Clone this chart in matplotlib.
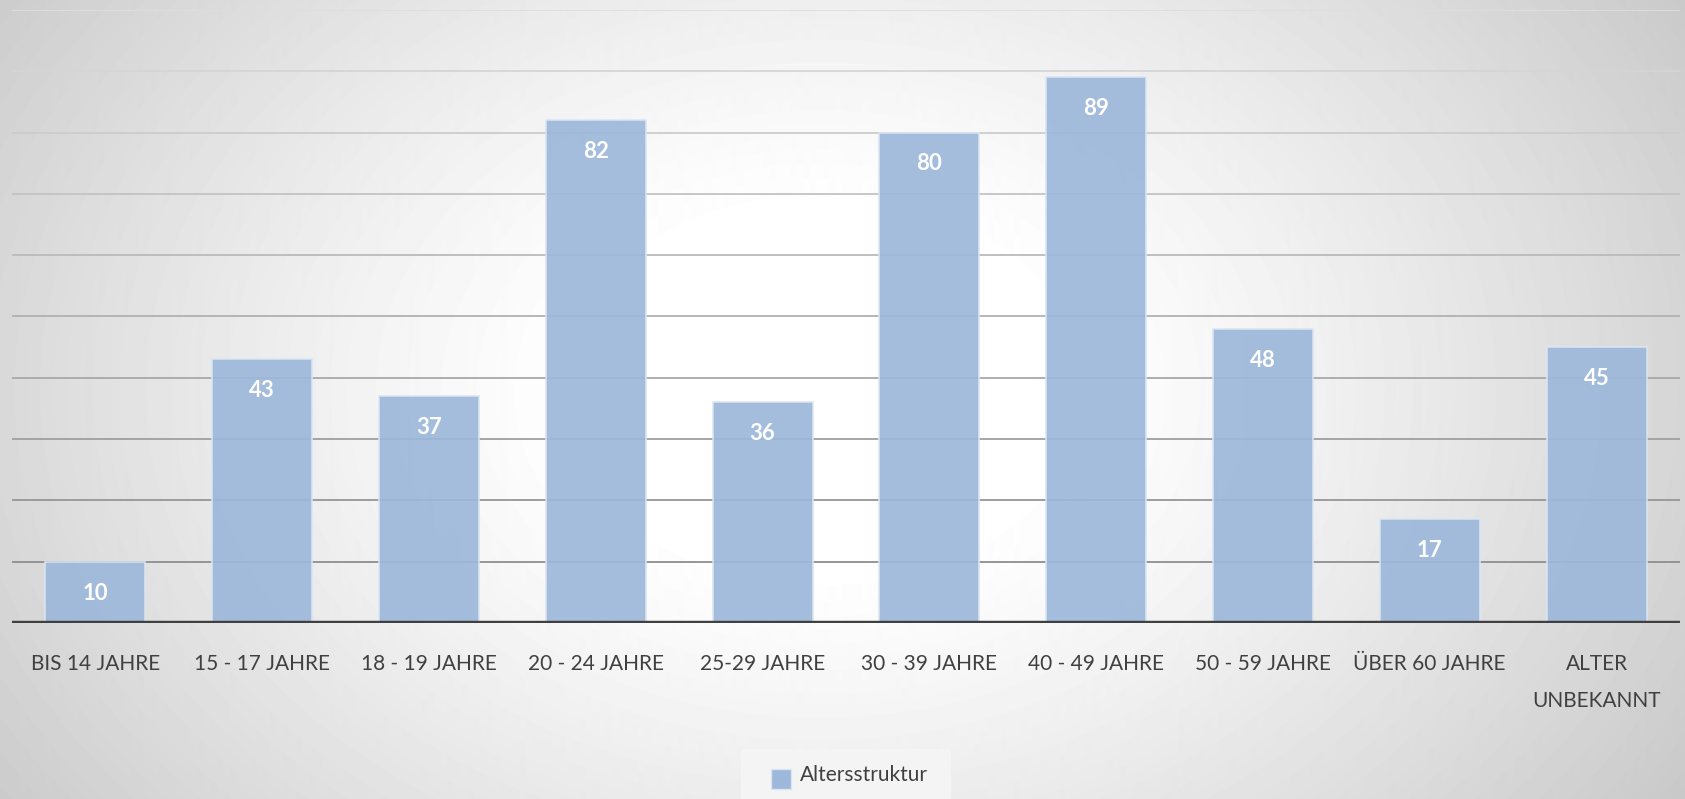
import numpy as np
import matplotlib.pyplot as plt
from matplotlib.patches import Rectangle

categories = ["BIS 14 JAHRE", "15 - 17 JAHRE", "18 - 19 JAHRE", "20 - 24 JAHRE",
              "25-29 JAHRE", "30 - 39 JAHRE", "40 - 49 JAHRE", "50 - 59 JAHRE",
              "ÜBER 60 JAHRE", "ALTER\nUNBEKANNT"]
values = [10, 43, 37, 82, 36, 80, 89, 48, 17, 45]
grid_levels = [10, 20, 30, 40, 50, 60, 70, 80, 90, 100]
series_name = "Altersstruktur"

plt.rcParams['font.family'] = ['Lato', 'DejaVu Sans']

fig = plt.figure(figsize=(16.85, 7.99), dpi=100)

# radial gradient background, wide white centre
bg = fig.add_axes([0, 0, 1, 1])
yy, xx = np.mgrid[0:799, 0:1685]
r = np.sqrt(((xx - 820) / 950.0) ** 2 + ((yy - 390) / 700.0) ** 2)
shade = 1.0 - 0.22 * np.clip((r - 0.25) / 0.85, 0, 1.2) ** 1.2
bg.imshow(shade, cmap='gray', vmin=0, vmax=1, aspect='auto', extent=[0, 1, 0, 1])
bg.set_axis_off()

ax = fig.add_axes([0.0071, 0.2203, 0.9899, 0.7672])
ax.patch.set_alpha(0)
x = np.arange(len(categories))

# gridlines fade from dark at the bottom to light at the top
for g in grid_levels:
    t = g / 100.0
    c = 0.52 + 0.35 * t
    ax.axhline(g, color=(c, c, c), lw=1.3, zorder=1)

ax.bar(x, values, width=0.6, color='#9db8da', alpha=0.92,
       edgecolor='#dbe5f1', linewidth=1.2, zorder=2, label=series_name)

for xi, v in zip(x, values):
    ax.annotate(str(v), (xi, v), xytext=(0, -15), textcoords='offset points',
                ha='center', va='top', color='white', fontsize=16,
                fontweight='bold', zorder=4)

ax.axhline(0, color='#404040', lw=3.2, zorder=3)
ax.set_xlim(-0.5, len(categories) - 0.5)
ax.set_ylim(0, 100)
ax.set_xticks(x)
ax.set_xticklabels(categories, fontsize=15, color='#404040', linespacing=2.1, va='top')
ax.tick_params(axis='x', length=0, pad=22)
ax.set_yticks([])
for s in ax.spines.values():
    s.set_visible(False)

# legend box
fig.patches.append(Rectangle((741 / 1685, 0), 210 / 1685, 50 / 799,
                             transform=fig.transFigure, facecolor='#f4f4f4',
                             edgecolor='none', zorder=0))
fig.patches.append(Rectangle((771 / 1685, 10 / 799), 20 / 1685, 20 / 799,
                             transform=fig.transFigure, facecolor='#9db8da',
                             edgecolor='#dbe5f1', lw=1, zorder=1))
fig.text(800 / 1685, 24 / 799, series_name, fontsize=15, color='#404040',
         va='center', ha='left')

plt.savefig("out.png", dpi=100)
